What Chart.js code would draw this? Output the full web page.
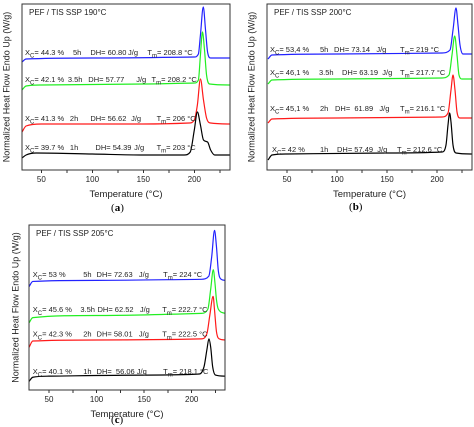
<!DOCTYPE html>
<html><head><meta charset="utf-8">
<script src="https://cdn.jsdelivr.net/npm/chart.js@4.4.0/dist/chart.umd.min.js"></script>
<style>
body{margin:0;background:#fff;width:474px;height:427px;position:relative;overflow:hidden;font-family:"Liberation Serif",serif}
canvas{position:absolute}
.lab{position:absolute;font-size:11px;font-family:"Liberation Serif",serif}
</style></head><body>
<canvas id="ca" width="237" height="215" style="left:0;top:0"></canvas>
<canvas id="cb" width="237" height="215" style="left:237px;top:0"></canvas>
<canvas id="cc" width="250" height="217" style="left:0;top:210px"></canvas>
<div class="lab" style="left:111px;top:201px">(<b>a</b>)</div>
<div class="lab" style="left:349px;top:200px">(<b>b</b>)</div>
<div class="lab" style="left:111px;top:413px">(<b>c</b>)</div>
<script>
// Panel (a) 190°C
const tA1 = [31,35,45,100,150,190,196,200,203,206,209,213,216,220,235];
const fA1 = [12,15,17,16,15,15,18,40,58,45,30,28,20,15,15];
const tA2 = [31,35,50,100,150,195,200,203,206,209,212,216,235];
const fA2 = [38,44,46,46,46,47,50,65,91,70,52,47,46];
const tA3 = [31,35,50,150,200,204,206,208,210,212,215,235];
const fA3 = [80,84,85,86,87,90,115,138,120,95,86,85];
const tA5 = [31,35,100,200,204,206,208.8,211,213,216,235];
const fA5 = [108,111,112,113,116,135,163,140,118,112,112];
// Panel (b) 200°C
const tB1 = [31,35,50,150,205,209,211,212.6,214,216,219,235];
const fB1 = [10,15,16,17,18,25,45,57,48,25,17,16];
const tB2 = [31,35,100,205,211,214,216,218,220,223,235];
const fB2 = [47,51,52,53,57,80,95,80,58,52,52];
const tB3 = [31,35,100,205,212,215,217.7,220,222,225,235];
const fB3 = [86,90,91,92,95,115,134,115,95,91,91];
const tB5 = [31,35,100,205,213,216,219,221,223,226,235];
const fB5 = [111,115,116,117,120,140,162,145,125,116,116];
// Panel (c) 205°C
const tC1 = [29,33,50,150,208,213,216,218.1,220,222,225,235];
const fC1 = [8,12,13,14,15,22,38,48,40,22,14,13];
const tC2 = [29,33,100,210,216,219,222.5,224,226,229,235];
const fC2 = [40,46,47,48,53,70,88,75,55,48,47];
const tC3 = [29,33,100,210,217,220,222.7,224.5,226,228,235];
const fC3 = [63,68,70,72,76,95,113,100,85,76,72];
const tC5 = [29,33,100,210,218,221,224,226,228,231,235];
const fC5 = [97,102,103,104,107,125,150,135,112,104,103];
const xTicks = [50,100,150,200];
const colors = ['#000000','#ff1a1a','#22ee22','#2222ff'];

const labelsA = [
 {y:117,p:[[34,'X|C|= 44.3 %'],[81,'5h'],[98,'DH= 60.80'],[135,'J/g'],[154,'T|m|= 208.8 °C']]},
 {y:90,p:[[34,'X|C|= 42.1 %'],[76,'3.5h'],[96,'DH= 57.77'],[143,'J/g'],[158,'T|m|= 208.2 °C']]},
 {y:51,p:[[34,'X|C|= 41.3 %'],[78,'2h'],[98,'DH= 56.62'],[138,'J/g'],[163,'T|m|= 206 °C']]},
 {y:22,p:[[34,'X|C|= 39.7 %'],[78,'1h'],[103,'DH= 54.39'],[141,'J/g'],[163,'T|m|= 203 °C']]}];
const labelsB = [
 {y:120,p:[[33,'X|C|= 53,4 %'],[83,'5h'],[97,'DH= 73.14   J/g'],[163,'T|m|= 219 °C']]},
 {y:97,p:[[33,'X|C|= 46,1 %'],[82,'3.5h'],[105,'DH= 63.19  J/g'],[163,'T|m|= 217.7 °C']]},
 {y:61,p:[[33,'X|C|= 45,1 %'],[83,'2h'],[98,'DH=  61.89   J/g'],[163,'T|m|= 216.1 °C']]},
 {y:20,p:[[35,'X|C|= 42 %'],[83,'1h'],[100,'DH= 57.49  J/g'],[160,'T|m|= 212.6 °C']]}];
const labelsC = [
 {y:108,p:[[33,'X|C|= 53 %'],[86,'5h'],[100,'DH= 72.63   J/g'],[170,'T|m|= 224 °C']]},
 {y:75,p:[[33,'X|C|= 45.6 %'],[83,'3.5h'],[101,'DH= 62.52   J/g'],[169,'T|m|= 222.7 °C']]},
 {y:52,p:[[33,'X|C|= 42.3 %'],[86,'2h'],[100,'DH= 58.01   J/g'],[169,'T|m|= 222.5 °C']]},
 {y:17,p:[[33,'X|C|= 40.1 %'],[86,'1h'],[100,'DH=  56.06 J/g'],[170,'T|m|= 218.1 °C']]}];

function ds(pairs){
  return pairs.map((pr,i)=>({data:pr[0].map((t,j)=>({x:t,y:pr[1][j]})),borderColor:colors[i],borderWidth:1.2,pointRadius:0,tension:0.4,cubicInterpolationMode:'monotone'}));
}
const overlay = {
  id:'overlay',
  afterDraw(chart){
    const o = chart.options.plugins.overlay, ctx = chart.ctx, a = chart.chartArea;
    const xs = chart.scales.x, ys = chart.scales.y;
    ctx.save();
    ctx.strokeStyle='#333';ctx.lineWidth=1;
    ctx.strokeRect(a.left,a.top,a.right-a.left,a.bottom-a.top);
    ctx.fillStyle='#222';ctx.textBaseline='middle';
    ctx.font='8px "Liberation Sans"';
    ctx.fillText(o.title,a.left+7,a.top+9);
    o.labels.forEach(l=>{
      const y=ys.getPixelForValue(l.y);
      l.p.forEach(([xv,s])=>{
        let x=xs.getPixelForValue(xv);
        const parts=s.split('|');
        parts.forEach((t,k)=>{
          if(k===1){ctx.font='6px "Liberation Sans"';ctx.fillText(t,x,y+3);}
          else{ctx.font='7.5px "Liberation Sans"';ctx.fillText(t,x,y);}
          x+=ctx.measureText(t).width;
        });
      });
    });
    ctx.translate(a.left-o.yTitleOff,(a.top+a.bottom)/2);
    ctx.rotate(-Math.PI/2);
    ctx.textAlign='center';ctx.font='9px "Liberation Sans"';
    ctx.fillText('Normalized Heat Flow Endo Up (W/g)',0,0);
    ctx.restore();
  }
};
function make(id,pairs,xmin,ymax,pad,title,labels,yOff){
  new Chart(document.getElementById(id),{
    type:'line',
    data:{datasets:ds(pairs)},
    plugins:[overlay],
    options:{
      responsive:false,animation:false,devicePixelRatio:2,
      layout:{padding:pad},
      plugins:{legend:{display:false},tooltip:{enabled:false},overlay:{title:title,labels:labels,yTitleOff:yOff}},
      scales:{
        x:{type:'linear',min:xmin,max:235,
          afterBuildTicks(ax){ax.ticks=[50,75,100,125,150,175,200,225].map(v=>({value:v}));},
          ticks:{font:{size:8,family:'Liberation Sans'},color:'#222',padding:2,maxRotation:0,
            callback:v=>xTicks.includes(v)?String(v):''},
          grid:{drawOnChartArea:false,drawTicks:true,tickLength:3,color:'#333'},
          border:{color:'#333'},
          title:{display:true,text:'Temperature (°C)',font:{size:9.5,family:'Liberation Sans'},color:'#222',padding:{top:2,bottom:0}},
          afterFit(ax){ax.height=30;}},
        y:{min:0,max:ymax,display:false}
      }
    }
  });
}
make('ca',[[tA1,fA1],[tA2,fA2],[tA3,fA3],[tA5,fA5]],31,166,{left:22,top:4,right:7,bottom:15},'PEF / TIS SSP 190°C',labelsA,15);
make('cb',[[tB1,fB1],[tB2,fB2],[tB3,fB3],[tB5,fB5]],30,166,{left:30,top:4,right:2,bottom:15},'PEF / TIS SSP 200°C',labelsB,15);
make('cc',[[tC1,fC1],[tC2,fC2],[tC3,fC3],[tC5,fC5]],29,155,{left:29,top:15,right:25,bottom:7},'PEF / TIS SSP 205°C',labelsC,13);
</script></body></html>
